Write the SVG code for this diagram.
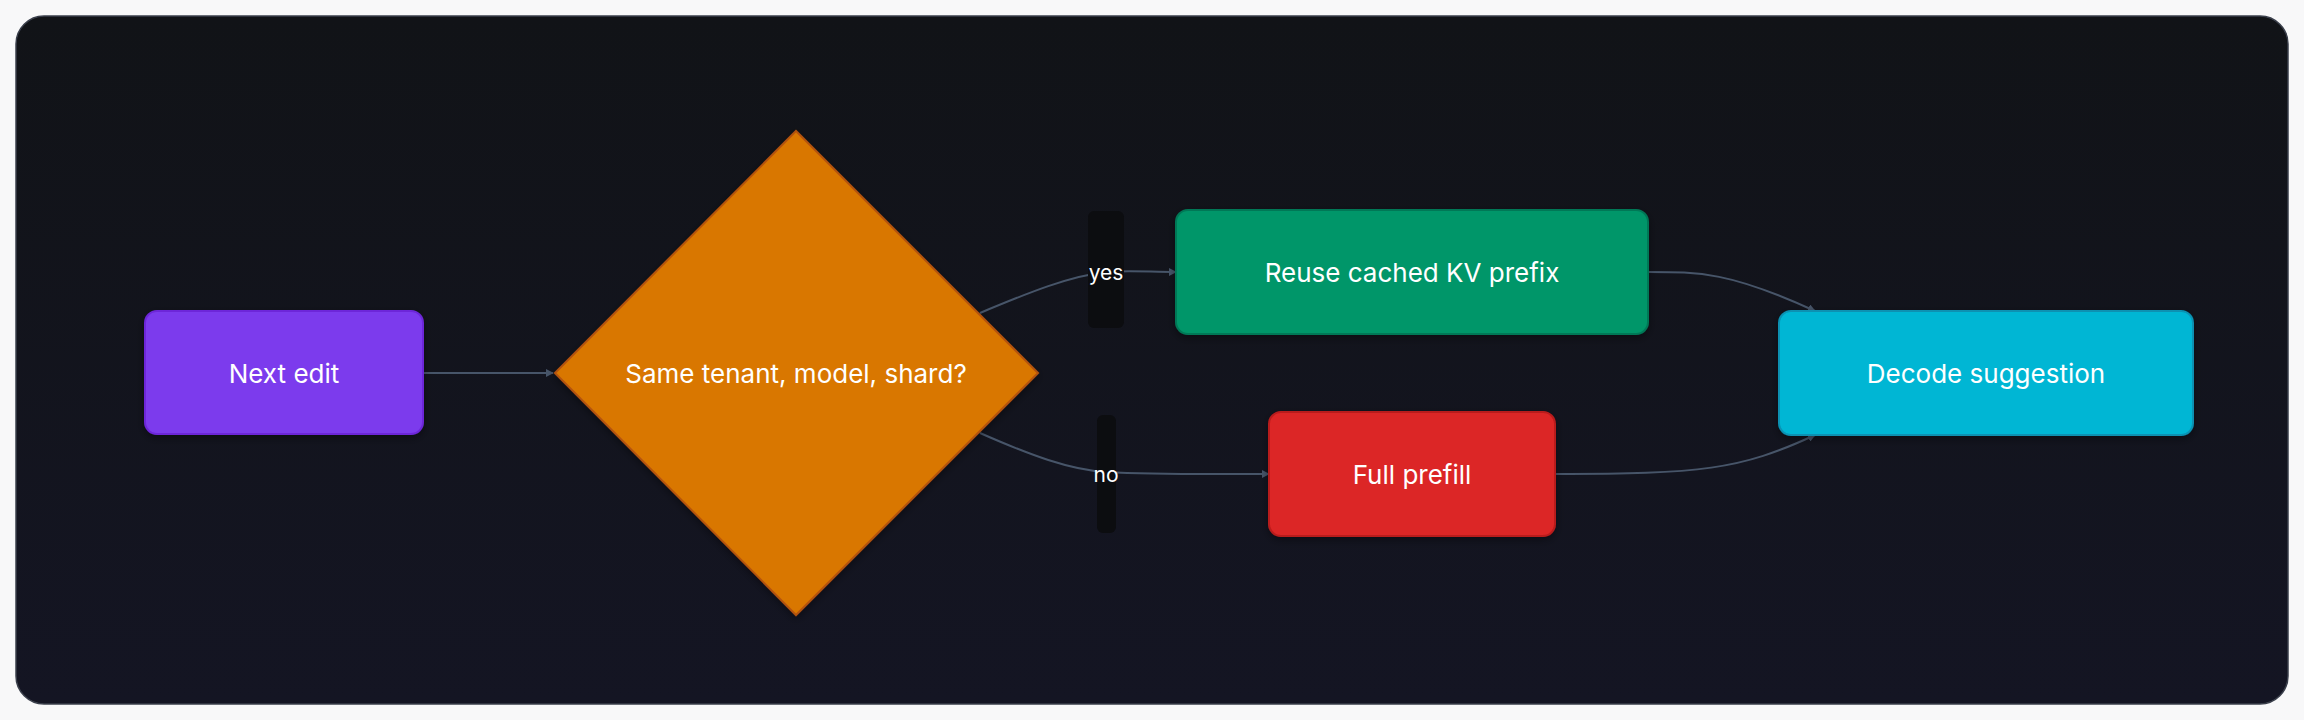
<svg xmlns="http://www.w3.org/2000/svg" width="2304" height="720" viewBox="0 0 2304 720">
<defs>
<marker id="arr" viewBox="0 0 10 10" refX="9" refY="5" markerWidth="8" markerHeight="8" markerUnits="userSpaceOnUse" orient="auto"><path d="M0,0L10,5L0,10z" fill="#475569"/></marker>
<filter id="sh" x="-10%" y="-10%" width="120%" height="130%"><feDropShadow dx="0" dy="3" stdDeviation="4" flood-color="#000" flood-opacity="0.4"/></filter>
<linearGradient id="bg" x1="0" y1="0" x2="0" y2="1"><stop offset="0" stop-color="#111317"/><stop offset="1" stop-color="#141523"/></linearGradient>
</defs>
<style>
.t{font-family:Inter,"Liberation Sans",sans-serif;font-size:26px;fill:#fff;text-anchor:middle;dominant-baseline:central}
.l{font-family:Inter,"Liberation Sans",sans-serif;font-size:21px;fill:#fff;text-anchor:middle;dominant-baseline:central}
.e{fill:none;stroke:#475569;stroke-width:2}
</style>
<rect x="0" y="0" width="2304" height="720" fill="#f8f8f9"/>
<rect x="16" y="16" width="2272" height="688" rx="28" fill="url(#bg)" stroke="#3a3f4b" stroke-width="1.5"/>
<g id="connectors">
<path class="e" d="M423,373H553" marker-end="url(#arr)"/>
<path class="e" d="M980,313C1030,292 1070,276 1106,272C1130,270 1150,272 1176,272" marker-end="url(#arr)"/>
<path class="e" d="M980,433C1030,455 1070,470 1106,472C1160,475 1210,474 1269,474" marker-end="url(#arr)"/>
<path class="e" d="M1648,272C1700,272 1730,272 1815,311" marker-end="url(#arr)"/>
<path class="e" d="M1555,474C1700,474 1740,470 1815,435" marker-end="url(#arr)"/>
<rect x="1088" y="211" width="36" height="117" rx="6" fill="#0c0d10"/>
<text class="l" x="1106" y="272">yes</text>
<rect x="1097" y="415" width="19" height="118" rx="6" fill="#0c0d10"/>
<text class="l" x="1106" y="474">no</text>
</g>
<g id="next-edit"><rect x="145" y="311" width="278" height="123" rx="12" fill="#7c3aed" stroke="#6d28d9" stroke-width="2" filter="url(#sh)"/><text class="t" x="284" y="373">Next edit</text></g>
<g id="decision"><polygon points="796,131 1038,373 796,615 555,373" fill="#d97706" stroke="#b45309" stroke-width="2" filter="url(#sh)"/><text class="t" x="796" y="373">Same tenant, model, shard?</text></g>
<g id="reuse"><rect x="1176" y="210" width="472" height="124" rx="12" fill="#059669" stroke="#047857" stroke-width="2" filter="url(#sh)"/><text class="t" x="1412" y="272">Reuse cached KV prefix</text></g>
<g id="full"><rect x="1269" y="412" width="286" height="124" rx="12" fill="#dc2626" stroke="#b91c1c" stroke-width="2" filter="url(#sh)"/><text class="t" x="1412" y="474">Full prefill</text></g>
<g id="decode"><rect x="1779" y="311" width="414" height="124" rx="12" fill="#06b6d4" stroke="#0891b2" stroke-width="2" filter="url(#sh)"/><text class="t" x="1986" y="373">Decode suggestion</text></g>
</svg>
